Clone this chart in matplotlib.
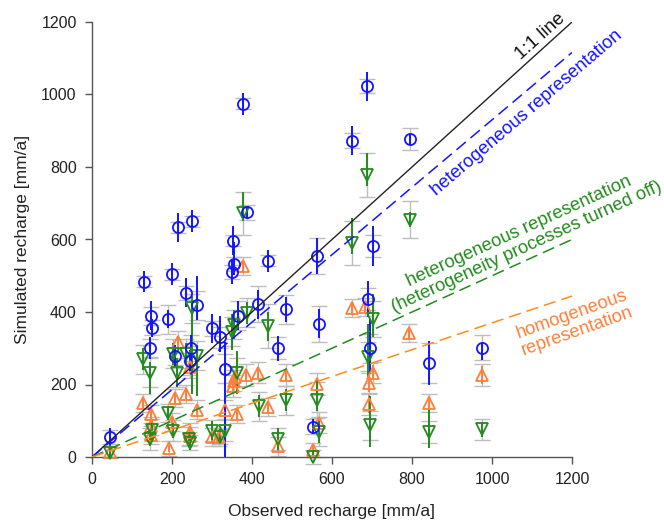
import matplotlib
matplotlib.use("Agg")
import matplotlib.pyplot as plt
import numpy as np

plt.rcParams['font.family'] = ['Liberation Sans', 'DejaVu Sans']

# ---------------- data ----------------
# heterogeneous representation (blue circles)
het_x = [45, 131, 147, 150, 145, 189, 200, 207, 214, 235, 247, 245, 251, 262, 301, 320, 332, 349, 352,
         355, 366, 378, 387, 414, 441, 466, 485, 552, 562, 567, 649, 687, 691, 695, 702, 795, 842, 976]
het_y = [55, 484, 389, 357, 300, 380, 504, 279, 634, 453, 301, 266, 650, 419, 355, 330, 243, 511, 597,
         532, 389, 974, 675, 422, 541, 300, 407, 84, 555, 367, 873, 1023, 435, 300, 582, 877, 260, 302]
het_lo = [25, 30, 40, 25, 30, 25, 30, 30, 40, 40, 35, 30, 30, 40, 40, 40, 243, 35, 40,
          30, 40, 30, 15, 40, 30, 35, 35, 20, 50, 40, 40, 40, 50, 70, 55, 15, 60, 35]
het_hi = [25, 30, 40, 25, 30, 25, 30, 30, 40, 40, 35, 30, 30, 80, 40, 60, 75, 35, 40,
          60, 40, 30, 15, 40, 30, 35, 35, 20, 50, 40, 40, 40, 50, 80, 55, 15, 60, 15]
het_gray = [20, 15, 25, 20, 25, 40, 15, 25, 15, 20, 35, 40, 15, 40, 20, 30, 40, 20, 15,
            20, 40, 15, 20, 50, 15, 30, 40, 20, 50, 50, 20, 20, 30, 40, 30, 30, 55, 35]

# heterogeneous representation, heterogeneity processes turned off (green down-triangles)
off_x = [45, 128, 145, 149, 145, 191, 202, 212, 203, 235, 243, 245, 249, 263, 299, 320, 332, 349, 355,
         362, 378, 387, 418, 441, 466, 485, 552, 562, 567, 649, 687, 691, 695, 702, 795, 843, 976]
off_y = [12, 270, 233, 74, 49, 122, 285, 233, 73, 285, 49, 40, 410, 279, 73, 56, 73, 345, 365,
         233, 672, 398, 140, 361, 49, 157, 0, 157, 70, 590, 778, 277, 88, 381, 655, 70, 76]
off_lo = [12, 30, 60, 30, 20, 20, 30, 40, 20, 30, 20, 20, 235, 110, 25, 20, 73, 50, 40,
          60, 20, 30, 30, 40, 30, 30, 0, 30, 30, 30, 30, 60, 60, 50, 20, 45, 20]
off_hi = [15, 30, 30, 30, 20, 20, 30, 40, 20, 30, 20, 20, 35, 30, 25, 20, 30, 50, 40,
          60, 60, 30, 30, 40, 30, 30, 20, 60, 30, 70, 60, 90, 80, 70, 20, 60, 20]
off_gray = [15, 40, 40, 30, 30, 25, 40, 40, 30, 40, 20, 20, 40, 40, 30, 20, 30, 40, 40,
            40, 60, 40, 40, 60, 30, 40, 20, 50, 40, 60, 60, 40, 40, 50, 50, 30, 30]

# homogeneous representation (orange up-triangles)
hom_x = [45, 128, 147, 148, 148, 193, 199, 207, 216, 235, 245, 245, 245, 262, 299, 317, 332, 352, 355,
         357, 362, 378, 385, 414, 441, 466, 485, 552, 562, 568, 649, 683, 693, 693, 702, 793, 842, 976]
hom_y = [14, 148, 119, 86, 60, 24, 97, 162, 318, 175, 249, 69, 57, 131, 56, 56, 131, 196, 211,
         222, 119, 526, 226, 233, 139, 29, 226, 19, 201, 95, 410, 415, 146, 203, 233, 341, 148, 226]
hom_err = [10, 15, 15, 15, 15, 10, 15, 15, 15, 15, 15, 15, 15, 15, 15, 15, 15, 15, 15,
           15, 15, 15, 15, 15, 15, 15, 15, 10, 15, 15, 15, 15, 25, 25, 20, 15, 20, 25]
hom_gray = [15, 25, 25, 25, 25, 20, 25, 25, 30, 25, 30, 25, 25, 25, 25, 25, 25, 30, 30,
            30, 25, 25, 30, 30, 25, 25, 30, 20, 30, 30, 25, 25, 30, 30, 30, 25, 25, 30]

# regression / reference lines (slopes)
line_names = ['1:1 line', 'heterogeneous', 'turned off', 'homogeneous']
line_slopes = [1.0, 0.93, 0.50, 0.37]

BLUE = '#1414ff'
GREEN = '#238b1e'
ORANGE = '#ff7f3a'
ORANGE_LINE = '#ff8c1a'
GRAY = '#bdbdbd'
TXT = '#222222'

fig = plt.figure(figsize=(6.64, 5.23), dpi=100)
ax = fig.add_axes([92/664, 1 - 457/523, 480/664, 435/523])

def draw_series(x, y, lo, hi, gray, color, marker):
    x = np.asarray(x, float); y = np.asarray(y, float)
    ax.errorbar(x, y, yerr=np.asarray(gray, float), fmt='none', ecolor=GRAY, elinewidth=1.0,
                capsize=5.5, capthick=1.0, zorder=2, clip_on=False)
    ax.errorbar(x, y, yerr=[np.asarray(lo, float), np.asarray(hi, float)], fmt='none', ecolor=color,
                elinewidth=1.4, capsize=0, zorder=3, clip_on=False)
    ax.plot(x, y, linestyle='none', marker=marker, markersize=8, markerfacecolor='none',
            markeredgecolor=color, markeredgewidth=1.3, zorder=4, clip_on=False)

draw_series(hom_x, hom_y, hom_err, hom_err, hom_gray, ORANGE, '^')
draw_series(off_x, off_y, off_lo, off_hi, off_gray, GREEN, 'v')
draw_series(het_x, het_y, het_lo, het_hi, het_gray, BLUE, 'o')

xs = np.array([0, 1200])
ax.plot(xs, line_slopes[0] * xs, color='#222222', lw=1.0, zorder=5)
ax.plot(xs, line_slopes[1] * xs, color=BLUE, lw=1.1, dashes=(8, 4), zorder=5)
ax.plot(xs, line_slopes[2] * xs, color=GREEN, lw=1.1, dashes=(8, 4), zorder=5)
ax.plot(xs, line_slopes[3] * xs, color=ORANGE_LINE, lw=1.1, dashes=(8, 4), zorder=5)

ax.set_xlim(0, 1200)
ax.set_ylim(0, 1200)
ax.set_xticks(range(0, 1201, 200))
ax.set_yticks(range(0, 1201, 200))
for s in ['top', 'right']:
    ax.spines[s].set_visible(False)
for s in ['left', 'bottom']:
    ax.spines[s].set_color('#555555')
    ax.spines[s].set_linewidth(1.0)
ax.tick_params(direction='out', length=5, width=1.0, color='#555555', labelsize=11.5, pad=6,
               labelcolor=TXT)
ax.set_xlabel('Observed recharge [mm/a]', fontsize=12.5, labelpad=12, color=TXT)
ax.set_ylabel('Simulated recharge [mm/a]', fontsize=12.5, labelpad=8, color=TXT)

ax.text(1122, 1159, '1:1 line', color='#111111', fontsize=13.5, rotation=42,
        ha='center', va='center', rotation_mode='anchor')
ax.text(1087, 948, 'heterogeneous representation', color=BLUE, fontsize=13.2, rotation=40.5,
        ha='center', va='center', rotation_mode='anchor')
ax.text(1077, 601, 'heterogeneous representation\n(heterogeneity processes turned off)', color=GREEN,
        fontsize=13.2, rotation=24.5, ha='center', va='center', rotation_mode='anchor',
        multialignment='center', linespacing=1.0)
ax.text(1206, 370, 'homogeneous\nrepresentation', color=ORANGE, fontsize=13.2, rotation=19.6,
        ha='center', va='center', rotation_mode='anchor', multialignment='center', linespacing=1.0,
        clip_on=False)

fig.savefig('out.png', dpi=100)
